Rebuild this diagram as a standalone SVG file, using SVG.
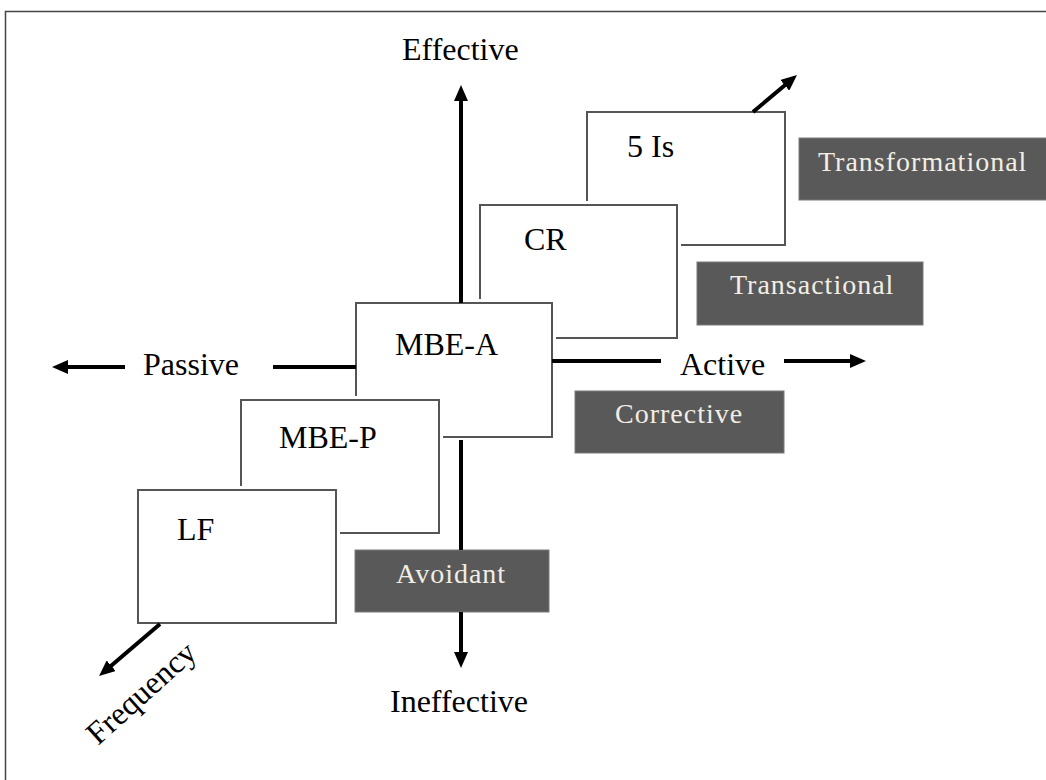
<svg xmlns="http://www.w3.org/2000/svg" width="1046" height="780" viewBox="0 0 1046 780">
<style>
.bg{fill:#ffffff}
.box{fill:#ffffff;stroke:#555555;stroke-width:2}
.pad{fill:#ffffff;stroke:none}
.lbl{font-family:"Liberation Serif","Times New Roman",serif;font-size:32px;fill:#000000}
.tag{fill:#595959;stroke:#7a7a7a;stroke-width:1}
.tagt{font-family:"Liberation Serif","Times New Roman",serif;font-size:28px;fill:#f2eee4;letter-spacing:1px}
.axis{stroke:#000000;stroke-width:4;fill:none}
.arr{stroke:#000000;stroke-width:4;fill:none;marker-end:url(#ah)}
</style>
<defs>
<marker id="ah" markerUnits="userSpaceOnUse" markerWidth="16" markerHeight="14" viewBox="0 0 16 14" refX="2" refY="7" orient="auto">
<path d="M0,0 L16,7 L0,14 Z" fill="#000000"/>
</marker>
</defs>
<rect class="bg" x="0" y="0" width="1046" height="780"/>
<path d="M5.5,780 V11.5 H1046" fill="none" stroke="#444444" stroke-width="1.5"/>

<g id="node-5is">
<rect class="pad" x="583" y="108" width="206" height="141"/>
<rect class="box" x="587" y="112" width="198" height="133"/>
<text class="lbl" x="627" y="157">5 Is</text>
</g>
<g id="node-cr">
<rect class="pad" x="476" y="201" width="205" height="141"/>
<rect class="box" x="480" y="205" width="197" height="133"/>
<text class="lbl" x="524" y="250">CR</text>
</g>
<g id="node-mbea">
<rect class="pad" x="352" y="299" width="204" height="142"/>
<rect class="box" x="356" y="303" width="196" height="134"/>
<text class="lbl" x="395" y="355">MBE-A</text>
</g>
<g id="node-mbep">
<rect class="pad" x="237" y="396" width="206" height="141"/>
<rect class="box" x="241" y="400" width="198" height="133"/>
<text class="lbl" x="279" y="448">MBE-P</text>
</g>
<g id="node-lf">
<rect class="pad" x="134" y="486" width="206" height="141"/>
<rect class="box" x="138" y="490" width="198" height="133"/>
<text class="lbl" x="177" y="540">LF</text>
</g>

<g id="tag-transformational">
<rect class="tag" x="799" y="138" width="260" height="62"/>
<text class="tagt" x="818" y="171">Transformational</text>
</g>
<g id="tag-transactional">
<rect class="tag" x="697" y="262" width="226" height="63"/>
<text class="tagt" x="730" y="294">Transactional</text>
</g>
<g id="tag-corrective">
<rect class="tag" x="575" y="391" width="209" height="62"/>
<text class="tagt" x="615" y="423">Corrective</text>
</g>
<g id="tag-avoidant">
<rect class="tag" x="355" y="550" width="194" height="62"/>
<text class="tagt" x="396" y="583">Avoidant</text>
</g>

<g id="connectors">
<line class="arr" x1="461" y1="303" x2="461" y2="99"/>
<line class="axis" x1="461" y1="440" x2="461" y2="550"/>
<line class="arr" x1="461" y1="612" x2="461" y2="654"/>
<line class="arr" x1="125" y1="367" x2="66" y2="367"/>
<line class="axis" x1="273" y1="367" x2="356" y2="367"/>
<line class="axis" x1="552" y1="361" x2="661" y2="361"/>
<line class="arr" x1="784" y1="361" x2="852" y2="361"/>
<line class="arr" x1="753" y1="112" x2="786.3" y2="84"/>
<line class="arr" x1="160" y1="624" x2="109.7" y2="667"/>
</g>

<g id="axis-labels">
<text class="lbl" x="402" y="60">Effective</text>
<text class="lbl" x="390" y="712">Ineffective</text>
<text class="lbl" x="143" y="375">Passive</text>
<text class="lbl" x="680" y="375">Active</text>
<text class="lbl" font-size="34" transform="translate(98,746) rotate(-42)">Frequency</text>
</g>
</svg>
